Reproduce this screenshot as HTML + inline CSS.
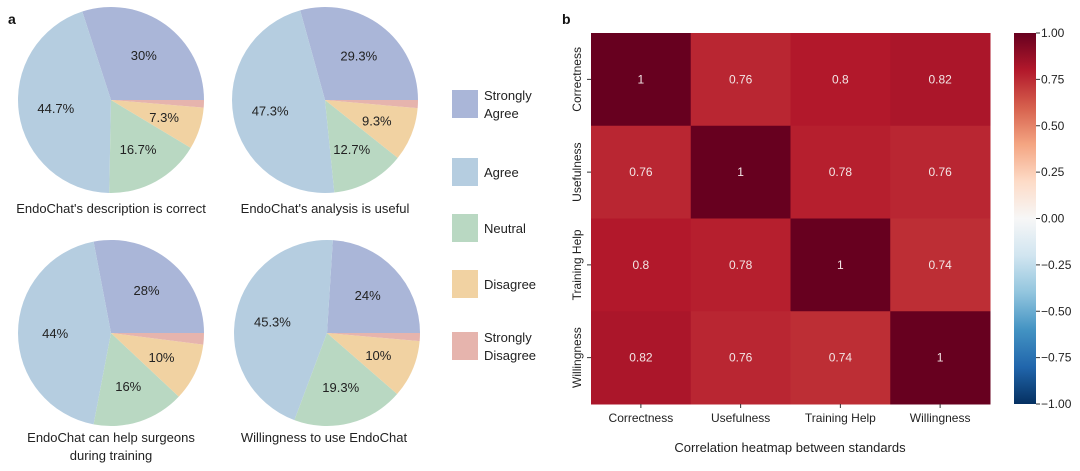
<!DOCTYPE html>
<html><head><meta charset="utf-8">
<style>
body{margin:0;background:#fff;width:1080px;height:466px;overflow:hidden;font-family:"Liberation Sans",sans-serif;}
svg text{font-family:"Liberation Sans",sans-serif;}
</style></head>
<body>
<svg id="chart" width="1080" height="466" viewBox="0 0 1080 466">
<text x="8" y="24" font-size="14" font-weight="bold" fill="#111">a</text>
<text x="562" y="24" font-size="14" font-weight="bold" fill="#111">b</text>
<g id="pies"></g>
<g id="legend"></g>
<g id="heat"></g>
<g id="cbar"></g>
<text x="790" y="452" font-size="13" text-anchor="middle" fill="#222">Correlation heatmap between standards</text>
</svg>
<script>
const pieCategories = ["Strongly Agree","Agree","Neutral","Disagree","Strongly Disagree"];
const pieColors = ["#aab6d8","#b5cde0","#b9d8c2","#f1d2a2","#e6b4ad"];
const pie1 = [30,44.7,16.7,7.3,1.3];
const pie2 = [29.3,47.3,12.7,9.3,1.4];
const pie3 = [28,44,16,10,2];
const pie4 = [24,45.3,19.3,10,1.4];
const pieTitles = [["EndoChat's description is correct"],["EndoChat's analysis is useful"],["EndoChat can help surgeons","during training"],["Willingness to use EndoChat"]];
const heatLabels = ["Correctness","Usefulness","Training Help","Willingness"];
const heatRow1 = [1,0.76,0.8,0.82];
const heatRow2 = [0.76,1,0.78,0.76];
const heatRow3 = [0.8,0.78,1,0.74];
const heatRow4 = [0.82,0.76,0.74,1];
const cbarTicks = [1,0.75,0.5,0.25,0,-0.25,-0.5,-0.75,-1];

const NS="http://www.w3.org/2000/svg";
function mk(tag,attrs,parent){const e=document.createElementNS(NS,tag);for(const k in attrs)e.setAttribute(k,attrs[k]);parent.appendChild(e);return e;}

const pieData=[pie1,pie2,pie3,pie4];
const pieCenters=[[111,100],[325,100],[111,333],[327,333]];
const titleY=[208,208,437,437];
const R=93;
const piesG=document.getElementById('pies');
pieData.forEach((vals,pi)=>{
  const [cx,cy]=pieCenters[pi];
  const g=mk('g',{},piesG);
  
  
  const total=vals.reduce((a,b)=>a+b,0);
  let a0=0;
  vals.forEach((v,i)=>{
    const a1=a0+v/total*2*Math.PI;
    const x0=cx+R*Math.cos(a0),y0=cy-R*Math.sin(a0);
    const x1=cx+R*Math.cos(a1),y1=cy-R*Math.sin(a1);
    const large=(a1-a0)>Math.PI?1:0;
    const p=mk('path',{d:`M${cx},${cy}L${x0},${y0}A${R},${R} 0 ${large} 0 ${x1},${y1}Z`,fill:pieColors[i]},g);
    
    
    if(i<4){
      const am=(a0+a1)/2;
      const t=mk('text',{x:cx+0.6*R*Math.cos(am),y:cy-0.6*R*Math.sin(am)+5,'font-size':13,'text-anchor':'middle',fill:'#222'},g);
      t.textContent=v+'%';
      
      
    }
    a0=a1;
  });
  pieTitles[pi].forEach((ln,li)=>{
    const t=mk('text',{x:cx+(pi==3?-3:0),y:titleY[pi]+5+li*18,'font-size':13,'text-anchor':'middle',fill:'#222'},g);
    t.textContent=ln;
    
    
  });
});

const legG=document.getElementById('legend');
const legY=[104,172,228,284,346];
pieCategories.forEach((c,i)=>{
  const r=mk('rect',{x:452,y:legY[i]-14,width:26,height:28,fill:pieColors[i]},legG);
  
  
  const parts=c.split(' ');
  const lines=(parts.length>1)?parts:[c];
  lines.forEach((ln,li)=>{
    const t=mk('text',{x:484,y:legY[i]+5+(li-(lines.length-1)/2)*18,'font-size':13,fill:'#222'},legG);
    t.textContent=ln;
    
    
  });
});

const stops=["#053061","#2166ac","#4393c3","#92c5de","#d1e5f0","#f7f7f7","#fddbc7","#f4a582","#d6604d","#b2182b","#67001f"];
function hx(h){return [1,3,5].map(i=>parseInt(h.substr(i,2),16));}
function cmap(v){let t=(v+1)/2*10;let i=Math.min(9,Math.floor(t));const f=t-i;const a=hx(stops[i]),b=hx(stops[i+1]);return 'rgb('+a.map((x,k)=>Math.round(x+(b[k]-x)*f)).join(',')+')';}

const heatRows=[heatRow1,heatRow2,heatRow3,heatRow4];
const HX0=591,HX1=990,HY0=33,HY1=404;
const xs=i=>HX0+i*(HX1-HX0)/heatLabels.length;
const ys=i=>HY0+i*(HY1-HY0)/heatLabels.length;
const cw=(HX1-HX0)/heatLabels.length,ch=(HY1-HY0)/heatLabels.length;
const hG=document.getElementById('heat');
heatRows.forEach((row,r)=>{
  row.forEach((v,c)=>{
    const rc=mk('rect',{x:xs(c),y:ys(r),width:cw+0.5,height:ch+0.5,fill:cmap(v)},hG);
    
    
    const t=mk('text',{x:xs(c)+cw/2,y:ys(r)+ch/2+4,'font-size':12,'text-anchor':'middle',fill:'#f3e6e6'},hG);
    t.textContent=String(v);
    
    
  });
});
heatLabels.forEach((l,i)=>{
  const cx=xs(i)+cw/2;
  mk('line',{x1:cx,y1:HY1,x2:cx,y2:HY1+4,stroke:'#333'},hG);
  const t=mk('text',{x:cx,y:HY1+18,'font-size':12,'text-anchor':'middle',fill:'#222'},hG);
  t.textContent=l;
  
  
  const cy=ys(i)+ch/2;
  mk('line',{x1:HX0-4,y1:cy,x2:HX0,y2:cy,stroke:'#333'},hG);
  const t2=mk('text',{x:0,y:0,'font-size':12,'text-anchor':'middle',fill:'#222',transform:`translate(${HX0-10},${cy}) rotate(-90)`},hG);
  t2.textContent=l;
  
  
});

const cG=document.getElementById('cbar');
const defs=mk('defs',{},cG);
const lg=mk('linearGradient',{id:'cg',x1:0,y1:1,x2:0,y2:0},defs);
stops.forEach((s,i)=>mk('stop',{offset:(i/10),'stop-color':s},lg));
const CB0=33,CB1=404;
const cbr=mk('rect',{x:1014,y:CB0,width:22,height:CB1-CB0,fill:'url(#cg)'},cG);


const cy=v=>CB0+(1-v)/2*(CB1-CB0);
cbarTicks.forEach(v=>{
  mk('line',{x1:1036,y1:cy(v),x2:1040,y2:cy(v),stroke:'#333'},cG);
  const t=mk('text',{x:1041,y:cy(v)+4,'font-size':12,fill:'#222'},cG);
  t.textContent=(v<0?'\u2212':'')+Math.abs(v).toFixed(2);
  
  
});
</script>
</body></html>
